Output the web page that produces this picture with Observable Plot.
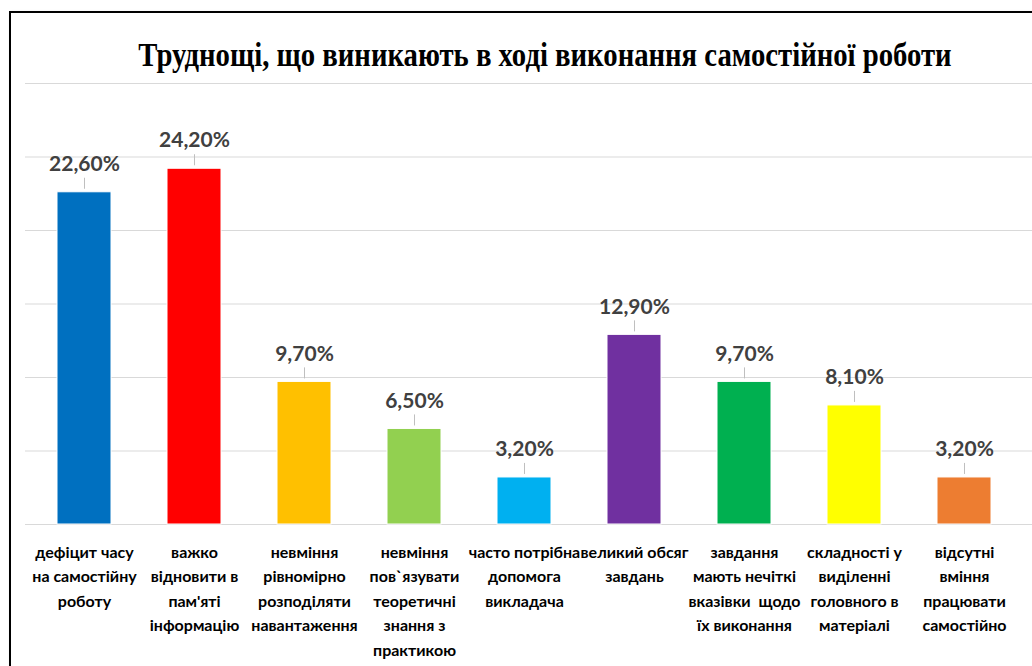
<!DOCTYPE html>
<html>
<head>
<meta charset="utf-8">
<script src="https://cdn.jsdelivr.net/npm/d3@7"></script>
<script src="https://cdn.jsdelivr.net/npm/@observablehq/plot@0.6"></script>
<style>
  html, body { margin: 0; padding: 0; background: #fff; width: 1032px; height: 666px; overflow: hidden; }
  #frame { position: absolute; left: 9px; top: 11px; width: 1100px; height: 800px; border: 2px solid #000; box-shadow: 2px 2px 3px rgba(0,0,0,0.35); }
  #title { position: absolute; left: 29px; width: 1032px; top: 39px; text-align: center; line-height: 33px;
           font-family: "Liberation Serif", "Times New Roman", serif; font-weight: bold; font-size: 33px; color: #000;
           white-space: nowrap; transform: scaleX(0.87); transform-origin: 516px 0; }
  #chart { position: absolute; left: 0; top: 0; }
</style>
</head>
<body>
<div id="frame"></div>
<div id="title">Труднощі, що виникають в ході виконання самостійної роботи</div>
<div id="chart"></div>
<script>
const categories = [
  "дефіцит часу\nна самостійну\nроботу",
  "важко\nвідновити в\nпам'яті\nінформацію",
  "невміння\nрівномірно\nрозподіляти\nнавантаження",
  "невміння\nпов`язувати\nтеоретичні\nзнання з\nпрактикою",
  "часто потрібна\nдопомога\nвикладача",
  "великий обсяг\nзавдань",
  "завдання\nмають нечіткі\nвказівки  щодо\nїх виконання",
  "складності у\nвиділенні\nголовного в\nматеріалі",
  "відсутні\nвміння\nпрацювати\nсамостійно"
];
const values = [22.6, 24.2, 9.7, 6.5, 3.2, 12.9, 9.7, 8.1, 3.2];
const valueLabels = ["22,60%", "24,20%", "9,70%", "6,50%", "3,20%", "12,90%", "9,70%", "8,10%", "3,20%"];
const colors = ["#0070C0", "#FF0000", "#FFC000", "#92D050", "#00B0F0", "#7030A0", "#00B050", "#FFFF00", "#ED7D31"];
const gridValues = [0, 5, 10, 15, 20, 25, 30];

const data = categories.map((c, i) => ({cat: c, value: values[i], label: valueLabels[i], color: colors[i]}));

const chart = Plot.plot({
  width: 1032,
  height: 666,
  marginTop: 83,
  marginBottom: 142,
  marginLeft: 25,
  marginRight: 0,
  style: {background: "transparent"},
  x: {domain: categories, range: [26, 1022], paddingInner: 0.51, paddingOuter: 0.255, axis: null},
  y: {domain: [0, 30], axis: null},
  marks: [
    Plot.ruleY(gridValues, {stroke: "#d9d9d9", strokeWidth: 1}),
    Plot.barY(data, {x: "cat", y: "value", fill: "color", stroke: "#fff", strokeWidth: 1}),
    Plot.ruleX(data, {x: "cat", y1: "value", y2: d => d.value + 0.75, dy: -3, stroke: "#bfbfbf", strokeWidth: 1}),
    Plot.text(data, {x: "cat", y: "value", text: "label", dy: -28, fontSize: 21, fontWeight: "bold",
      fontFamily: "Lato, 'Open Sans', sans-serif", fill: "#404040"}),
    Plot.text(data, {x: "cat", y: 0, text: "cat", lineAnchor: "top", dy: 16, fontSize: 16, fontWeight: "bold",
      lineHeight: 1.53, fontFamily: "Lato, 'Open Sans', sans-serif", fill: "#000"})
  ]
});
document.getElementById("chart").appendChild(chart);
</script>
</body>
</html>
